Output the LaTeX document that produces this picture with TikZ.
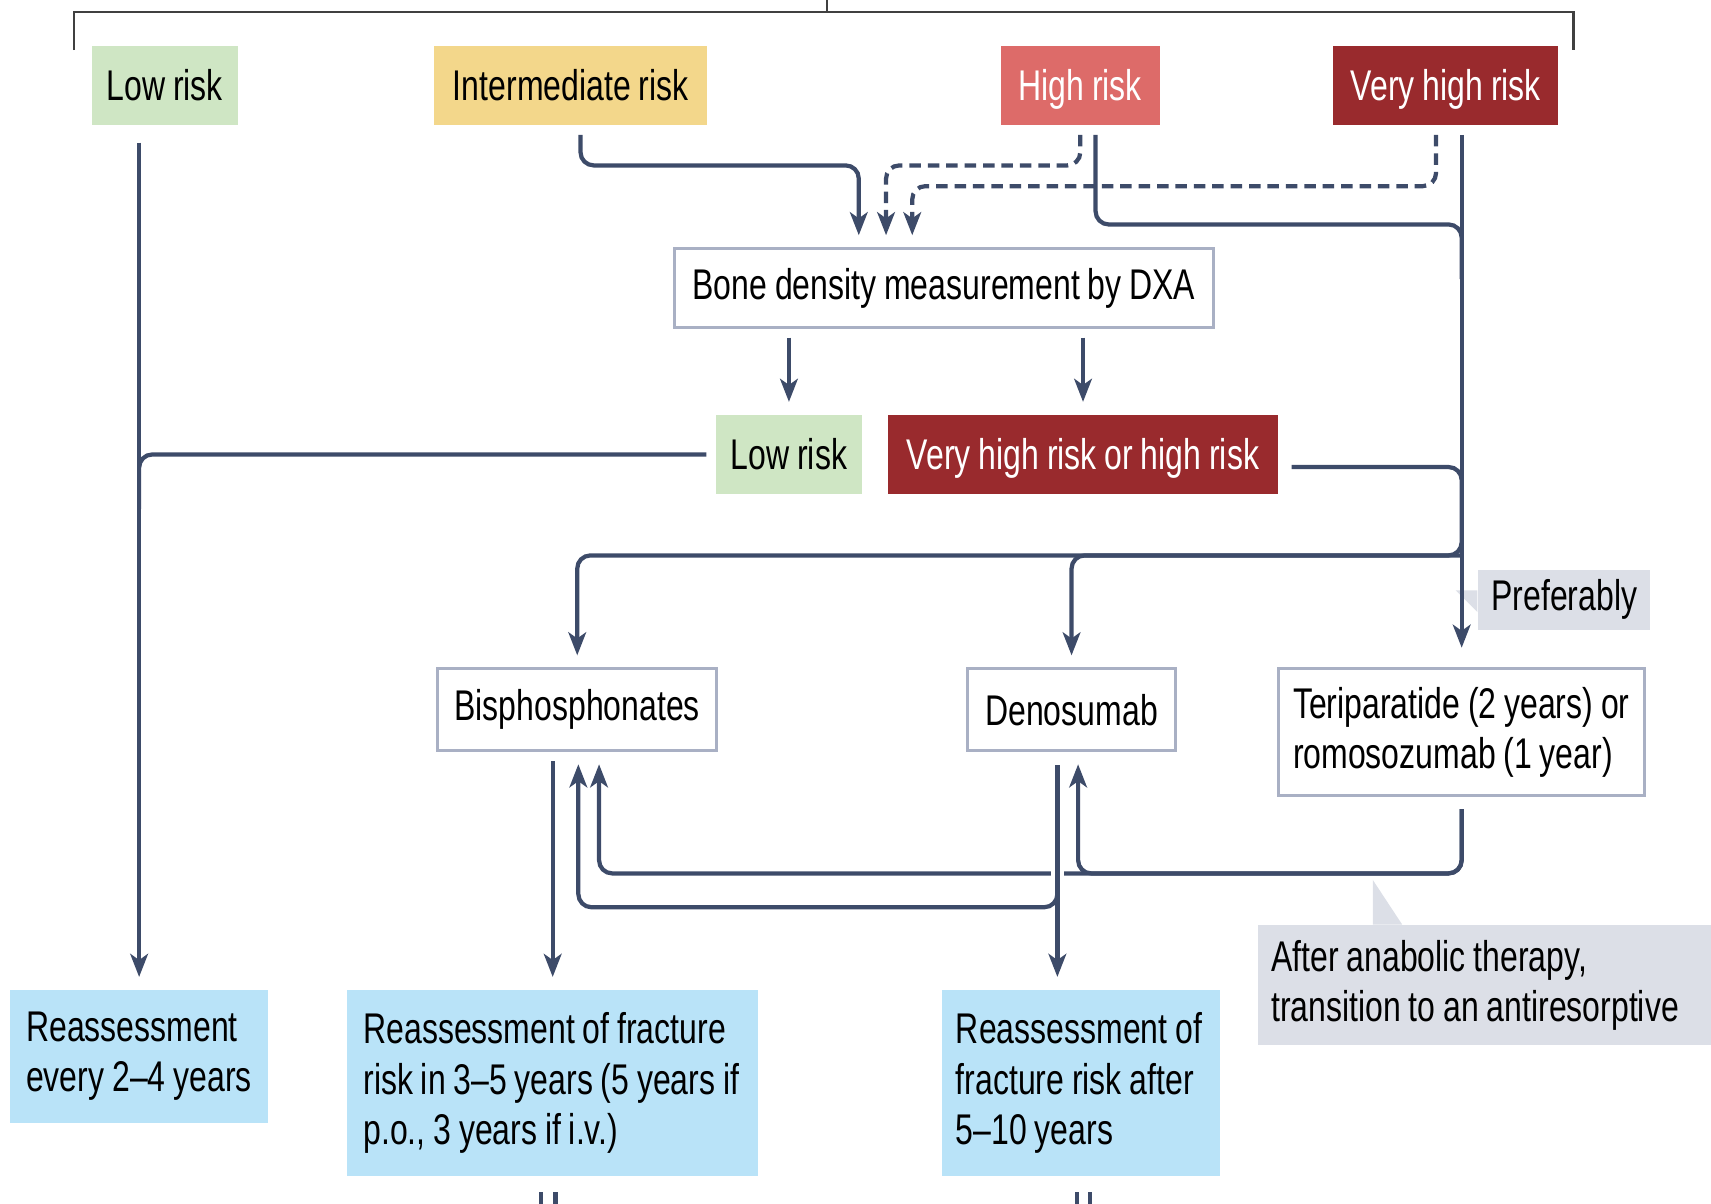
\documentclass[tikz,border=0pt]{standalone}
\usepackage{fontspec}
\setmainfont{Liberation Sans}[FakeStretch=0.745,WordSpace=0.88]
\usetikzlibrary{arrows.meta,positioning,calc}

\definecolor{lowgreen}{HTML}{CFE6C4}
\definecolor{midyellow}{HTML}{F3D78B}
\definecolor{highred}{HTML}{DD6B69}
\definecolor{vhighred}{HTML}{992A2D}
\definecolor{reblue}{HTML}{B9E3F8}
\definecolor{notegray}{HTML}{DCDFE7}
\definecolor{linknavy}{HTML}{3D4B69}
\definecolor{boxedge}{HTML}{A9B0C4}

\tikzset{
  riskbox/.style={rectangle,minimum height=0.73cm,inner sep=0pt,text height=8pt,text depth=0pt},
  drugbox/.style={rectangle,draw=boxedge,line width=0.8pt,fill=white,minimum height=0.75cm},
  reassess/.style={rectangle,fill=reblue,align=flush left,inner xsep=0.15cm,inner ysep=0pt},
  note/.style={rectangle,fill=notegray,align=flush left,inner xsep=0.12cm,inner ysep=0pt},
  flow/.style={draw=linknavy,line width=1.1pt,rounded corners=0.12cm,shorten <=0.08cm},
  arr/.style={flow,-{Stealth[length=6pt,width=4.6pt,inset=1.6pt]},shorten >=0.11cm},
  maybe/.style={dash pattern=on 3pt off 1.8pt},
  bracket/.style={draw=black!75,line width=0.6pt},
}

\begin{document}
\begin{tikzpicture}[font=\fontsize{11.2}{13.1}\selectfont]
\useasboundingbox (0,0) rectangle (15.68,-11.03);

% bracket over the four risk groups
\draw[bracket] (0.68,-0.46) -- (0.68,-0.11) -- (14.42,-0.11) -- (14.42,-0.46);
\draw[bracket] (7.58,0) -- (7.58,-0.11);

% risk groups
\node[riskbox,fill=lowgreen,minimum width=1.34cm] (lowA) at (1.51,-0.785) {Low risk};
\node[riskbox,fill=midyellow,minimum width=2.50cm] (inter) at (5.23,-0.785) {Intermediate risk};
\node[riskbox,fill=highred,text=white,minimum width=1.46cm] (high) at (9.90,-0.785) {High risk};
\node[riskbox,fill=vhighred,text=white,minimum width=2.06cm] (vhigh) at (13.25,-0.785) {Very high risk};

% DXA and its outcome
\node[drugbox,minimum width=4.94cm,minimum height=0.72cm] (dxa) at (8.65,-2.64) {Bone density measurement by DXA};
\node[riskbox,fill=lowgreen,minimum width=1.34cm] (lowB) at (7.23,-4.165) {Low risk};
\node[riskbox,fill=vhighred,text=white,minimum width=3.57cm] (vhB) at (9.925,-4.165) {Very high risk or high risk};

% drugs
\node[drugbox,minimum width=2.56cm] (bis) at (5.29,-6.505) {Bisphosphonates};
\node[drugbox,minimum width=1.90cm] (deno) at (9.82,-6.505) {Denosumab};
\node[drugbox,minimum height=1.16cm,align=flush left,text width=3.09cm,inner xsep=0.13cm] (teri) at (13.395,-6.71) {Teriparatide (2 years) or\\romosozumab (1 year)};

% notes
\node[note,minimum width=1.47cm,minimum height=0.55cm] (pref) at (14.335,-5.495) {Preferably};
\fill[notegray] ([yshift=0.085cm]pref.west) -- ++(-0.2,0) -- ([yshift=-0.115cm]pref.west) -- cycle;
\node[note,text width=3.91cm,minimum height=1.10cm] (after) at (13.605,-9.03) {After anabolic therapy,\\transition to an antiresorptive};
\fill[notegray] ([xshift=-1.025cm]after.north) -- ++(0,0.41) -- ([xshift=-0.755cm]after.north) -- cycle;

% reassessment
\node[reassess,text width=2.07cm,minimum height=1.22cm] (re1) at (1.275,-9.68) {Reassessment\\every 2--4 years};
\node[reassess,text width=3.47cm,minimum height=1.71cm] (re2) at (5.065,-9.925) {Reassessment of fracture\\risk in 3--5 years (5 years if\\p.o., 3 years if i.v.)};
\node[reassess,text width=2.29cm,inner xsep=0.13cm,minimum height=1.71cm] (re3) at (9.905,-9.925) {Reassessment of\\fracture risk after\\5--10 years};

% ports and turning points
\coordinate (split) at ([yshift=-0.925cm]vhB.east -| teri.north);
\coordinate (back) at ([yshift=-0.70cm]teri.south);
\coordinate (back2) at ([yshift=-1.42cm]deno.south);
\coordinate (bisUpA) at ([xshift=0.01cm]bis.south);
\coordinate (bisUpB) at ([xshift=0.2cm]bis.south);
\coordinate (denoUp) at ([xshift=0.06cm]deno.south);
\coordinate (denoOut) at ([xshift=-0.13cm]deno.south);

% low risk: reassess
\draw[arr,shorten <=0.15cm] (lowA.south -| re1.north) -- (re1.north);
\draw[flow] (lowB.west) -| ([yshift=-0.5cm]lowB.west -| re1.north);

% into DXA
\draw[arr] ([xshift=0.09cm]inter.south) |- ([xshift=-0.78cm,yshift=0.75cm]dxa.north) -- ([xshift=-0.78cm]dxa.north);
\draw[arr,maybe] (high.south) |- ([xshift=-0.53cm,yshift=0.75cm]dxa.north) -- ([xshift=-0.53cm]dxa.north);
\draw[arr,maybe] ([xshift=-0.09cm]vhigh.south) |- ([xshift=-0.29cm,yshift=0.56cm]dxa.north) -- ([xshift=-0.29cm]dxa.north);

% straight to anabolic
\draw[flow] ([xshift=0.14cm]high.south) |- ([yshift=-0.9cm]vhigh.south -| teri.north) -- ++(0,-0.5);
\draw[arr,shorten >=0.18cm] (vhigh.south -| teri.north) -- (teri.north);

% DXA result
\draw[arr] (dxa.south -| lowB.north) -- (lowB.north);
\draw[arr] (dxa.south -| vhB.north) -- (vhB.north);

% to antiresorptives
\draw[arr,shorten <=0.12cm] ([yshift=-0.115cm]vhB.east) -| (split) -| (bis.north);
\draw[arr,shorten <=0pt] (split) -| (deno.north);

% after anabolic
\draw[arr,shorten <=0.11cm] (teri.south) |- (bisUpB |- back) -- (bisUpB);
\draw[arr,shorten <=0.11cm] (teri.south) |- (denoUp |- back) -- (denoUp);
\draw[white,line width=3.5pt] ([yshift=0.07cm]denoOut |- back) -- ([yshift=-0.07cm]denoOut |- back);

% after denosumab / bisphosphonates
\draw[arr,shorten <=0.12cm] (denoOut) -- (denoOut |- re3.north);
\draw[arr,shorten <=0.12cm] (denoOut) |- (bisUpA |- back2) -- (bisUpA);
\draw[arr] (re2.north |- bis.south) -- (re2.north);

% continues below
\foreach \dx in {-0.105,0.025}
  \draw[flow,rounded corners=0pt,shorten <=0pt] ([xshift=\dx cm,yshift=-0.14cm]re2.south) -- ++(0,-0.4);
\foreach \dx in {-0.035,0.085}
  \draw[flow,rounded corners=0pt,shorten <=0pt] ([xshift=\dx cm,yshift=-0.14cm]re3.south) -- ++(0,-0.4);
\end{tikzpicture}
\end{document}
